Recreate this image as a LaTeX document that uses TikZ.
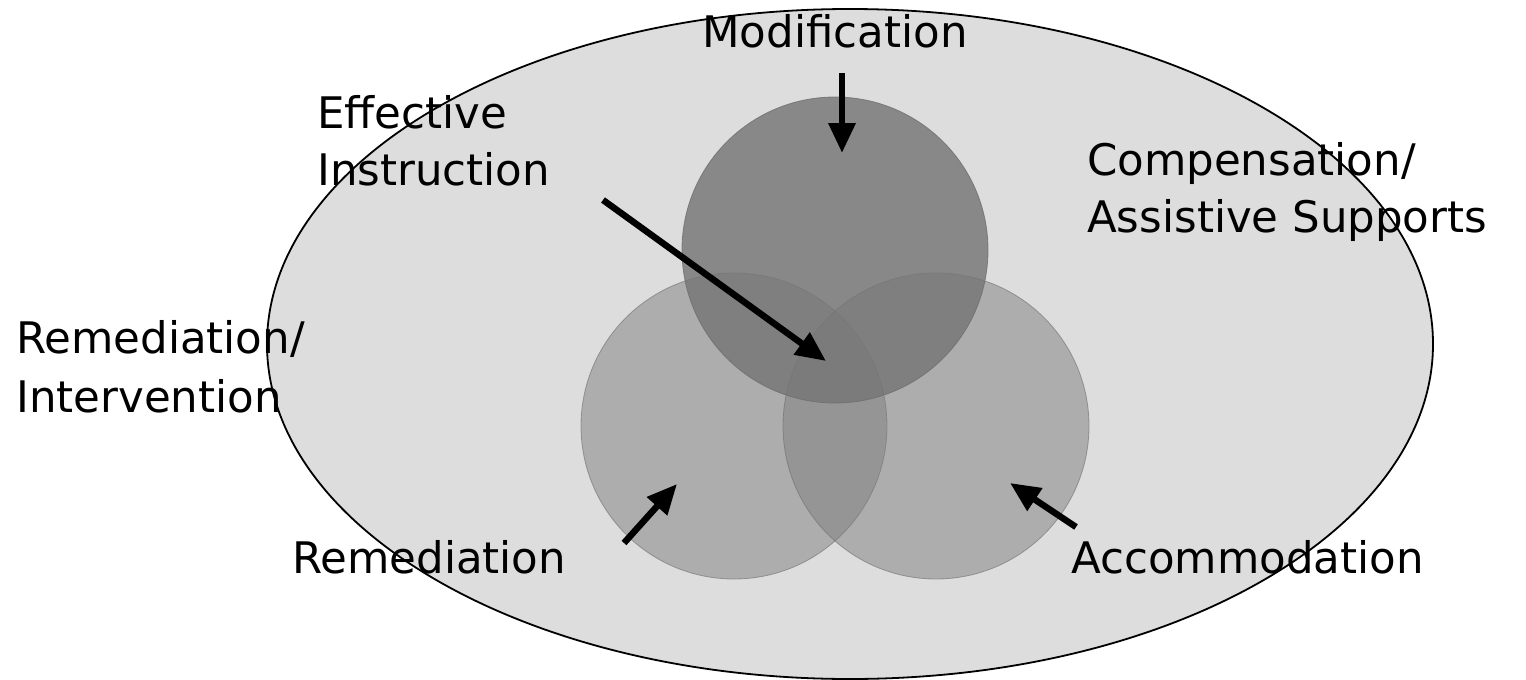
\documentclass[tikz,border=0pt]{standalone}
\usepackage{fontspec}
\setmainfont{DejaVu Sans}
\usetikzlibrary{shapes.geometric,arrows.meta}
\definecolor{bgell}{RGB}{221,221,221}
\definecolor{lowc}{RGB}{125,125,125}
\definecolor{topc}{RGB}{117,117,117}
\definecolor{rimc}{RGB}{110,110,110}
\tikzset{
  lbl/.style={anchor=base west, inner sep=0pt, font=\fontsize{43.5}{58}\selectfont},
  lowcircle/.style={circle, minimum size=306pt, inner sep=0pt, fill=lowc, fill opacity=0.49, draw=rimc, draw opacity=0.6, line width=0.8pt},
  topcircle/.style={circle, minimum size=306pt, inner sep=0pt, fill=topc, fill opacity=0.81, draw=rimc, draw opacity=0.8, line width=0.8pt},
  arr/.style={line width=6.5pt, -{Triangle[length=30pt,width=26pt]}, shorten >=0pt}
}
\begin{document}
\begin{tikzpicture}[x=1pt,y=-1pt]
\useasboundingbox (0,0) rectangle (1526,680);
\fill[white] (0,0) rectangle (1526,680);
\node[ellipse, minimum width=1166pt, minimum height=670pt, inner sep=0pt, fill=bgell, draw=black, line width=1.8pt] (outer) at (850,344) {};
\node[lowcircle] (left) at (734,426) {};
\node[lowcircle] (right) at (936,426) {};
\node[topcircle] (top) at (835,250) {};
% labels
\node[lbl, anchor=base] (mod) at (835,47) {Modification};
\node[lbl] (eff1) at (317,128) {Effective};
\node[lbl] (eff2) at (317,185) {Instruction};
\node[lbl] (comp1) at (1087,175) {Compensation/};
\node[lbl] (comp2) at (1087,232) {Assistive Supports};
\node[lbl] (rem1) at (16,353) {Remediation/};
\node[lbl] (rem2) at (16,412) {Intervention};
\node[lbl] (remed) at (292,573) {Remediation};
\node[lbl] (acc) at (1071,573) {Accommodation};
% arrow ends
\coordinate (modT) at (842,73);
\coordinate (modH) at (842,153);
\coordinate (effT) at (603,200);
\coordinate (effH) at (826,361);
\coordinate (remT) at (624,543);
\coordinate (remH) at (677,484);
\coordinate (accT) at (1076,527);
\coordinate (accH) at (1010,483);
\draw[arr] (modT) -- (modH);
\draw[arr] (effT) -- (effH);
\draw[arr] (remT) -- (remH);
\draw[arr] (accT) -- (accH);
\end{tikzpicture}
\end{document}
